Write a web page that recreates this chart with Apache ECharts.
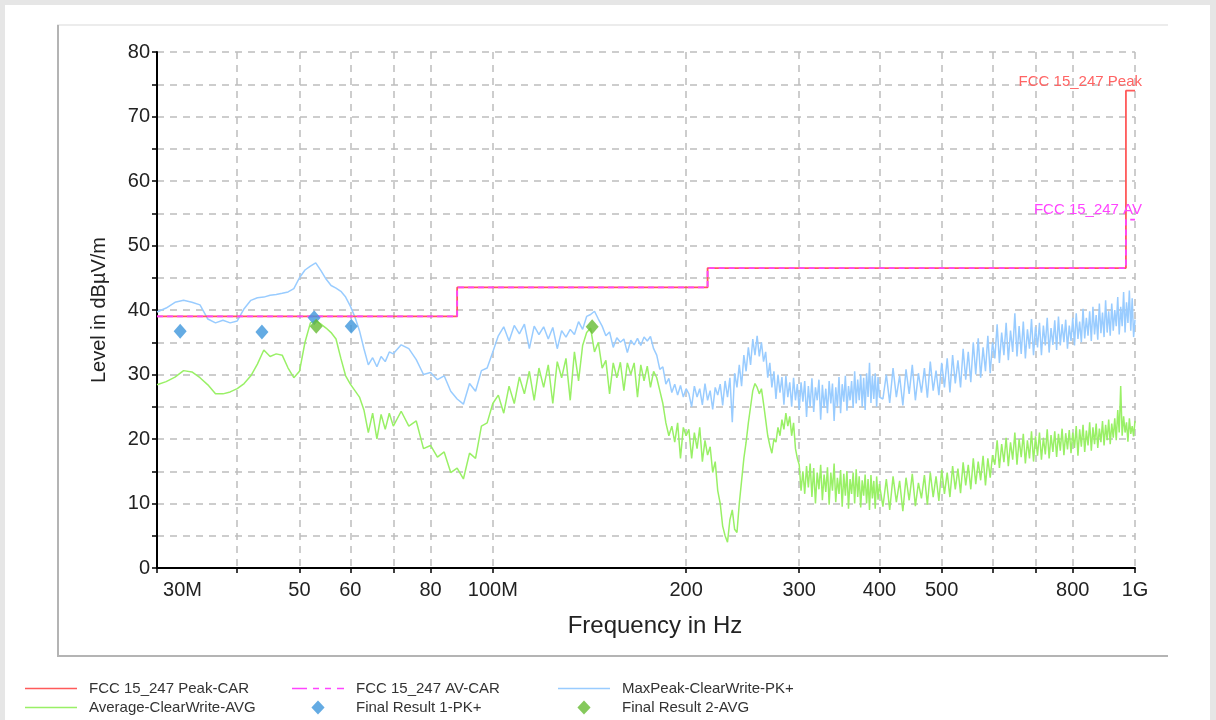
<!DOCTYPE html>
<html><head><meta charset="utf-8">
<script src="https://cdn.jsdelivr.net/npm/echarts@6/dist/echarts.min.js"></script>
<style>html,body{margin:0;padding:0;background:#e6e6e6;}#c{width:1216px;height:720px;}</style>
</head><body><div id="c"></div>
<script>
// Sweep frequencies (MHz)
const freqMHz = [
 30,31,32,33,34,35,36,37,38,39,40,41,42,43,44,45,46,47,48,49,50,51,52,53,54,55,56,57,58,59,60,61,62,63,64,65,66,67,68,69,70,
 72,74,76,78,80,82,84,86,88,90,92,94,96,98,100,
 102,104,106,108,110,112,114,116,118,120,122,124,126,128,130,132,134,136,138,140,142,144,146,148,150,
 152,154,156,158,160,162,164,166,168,170,172,174,176,178,180,182,184,186,188,190,192,194,196,198,200,
 202,204,206,208,210,212,214,216,218,220,222,224,226,228,230,232,234,236,238,240,242,244,246,248,250,
 252,254,256,258,260,262,264,266,268,270,272,274,276,278,280,282,284,286,288,290,292,294,296,298,300,
 302,304,306,308,310,312,314,316,318,320,322,324,326,328,330,332,334,336,338,340,342,344,346,348,350,
 352,354,356,358,360,362,364,366,368,370,372,374,376,378,380,382,384,386,388,390,392,394,396,398,400,
 405,410,415,420,425,430,435,440,445,450,455,460,465,470,475,480,485,490,495,500,
 505,510,515,520,525,530,535,540,545,550,555,560,565,570,575,580,585,590,595,600,
 605,610,615,620,625,630,635,640,645,650,655,660,665,670,675,680,685,690,695,700,
 705,710,715,720,725,730,735,740,745,750,755,760,765,770,775,780,785,790,795,800,
 805,810,815,820,825,830,835,840,845,850,855,860,865,870,875,880,885,890,895,900,
 905,910,915,920,925,930,935,940,945,950,955,960,965,970,975,980,985,990,995,1000
];
// MaxPeak-ClearWrite-PK+ (dBµV/m)
const maxPeak = [
 39.7,40.3,41.2,41.5,41.2,40.8,38.6,38.0,38.4,38.0,38.3,40.2,41.5,41.9,42.0,42.3,42.4,42.6,42.8,43.3,45.0,46.2,46.8,47.3,46.1,44.8,43.8,43.4,42.9,42.0,40.6,38.9,36.8,34.0,31.5,32.6,31.2,32.8,32.0,33.5,33.2,
 34.6,34.0,32.3,30.0,30.3,29.2,29.8,27.4,26.2,25.4,28.6,27.4,30.6,31.0,33.5,
 36.0,37.4,35.2,37.6,36.3,37.8,34.0,37.5,36.2,37.4,35.5,37.3,34.0,36.8,35.8,37.0,36.2,38.2,37.0,39.0,39.3,39.8,38.6,37.5,36.0,
 36.6,34.2,35.7,35.0,35.5,33.4,35.3,34.6,35.6,34.5,35.8,35.2,35.9,34.0,33.0,30.8,31.2,28.5,29.4,27.2,28.5,26.8,28.3,26.5,27.8,
 27.0,25.0,28.2,26.5,27.8,25.3,28.6,26.0,27.5,24.6,28.0,26.8,28.5,25.2,29.0,26.5,29.5,22.6,30.2,28.0,31.5,28.2,33.0,30.5,34.2,
 31.5,35.5,33.0,36.0,32.8,35.0,32.0,33.5,29.5,31.8,28.0,30.5,26.2,30.0,27.2,29.6,25.3,29.8,26.5,28.8,25.0,29.5,26.0,28.5,24.5,
 28.8,25.8,29.0,23.4,28.2,25.0,29.4,24.2,28.0,26.0,29.2,23.0,28.4,24.8,27.8,24.0,29.0,25.5,28.6,22.8,28.0,25.0,29.6,24.0,28.5,
 25.8,29.8,24.4,28.2,26.0,29.0,24.8,30.5,25.5,29.2,26.0,30.0,25.0,29.5,24.5,30.2,26.5,31.8,25.6,29.8,26.2,30.2,25.0,29.6,26.5,
 26.2,30.0,25.6,31.0,26.5,29.8,25.2,30.8,27.0,31.5,26.0,30.2,27.2,31.0,26.4,32.0,27.5,30.6,26.8,31.8,
 28.0,32.5,27.2,33.0,28.6,32.2,28.0,34.0,29.2,33.5,28.8,35.0,30.0,35.6,29.5,34.2,30.5,36.0,30.2,35.0,
 32.5,37.8,31.8,36.5,33.0,38.0,32.2,36.8,33.5,39.5,32.8,37.5,33.2,38.2,32.5,37.0,34.0,38.6,33.0,37.4,
 34.2,38.0,33.0,37.6,34.5,38.8,33.4,37.2,34.6,38.4,33.8,39.0,34.5,37.8,35.0,38.5,34.0,37.6,35.2,38.8,
 34.5,39.5,35.5,38.2,35.0,40.2,35.6,38.8,36.0,39.8,35.2,40.5,36.2,39.2,35.4,41.0,36.4,39.6,35.8,41.5,
 36.5,39.8,36.0,41.0,36.8,40.0,37.5,42.0,36.2,40.5,37.5,42.8,36.5,41.2,38.0,43.0,36.8,41.8,35.8,38.5
];
// Average-ClearWrite-AVG (dBµV/m)
const average = [
 28.4,28.9,29.6,30.6,30.4,29.5,28.4,27.0,27.0,27.3,27.8,28.6,29.8,31.6,33.8,32.8,33.2,33.0,31.0,29.5,30.5,35.0,38.0,38.4,37.8,37.2,36.5,35.5,32.5,29.8,28.5,27.5,26.5,24.5,21.0,24.0,20.0,23.8,21.5,24.0,22.0,
 24.3,22.0,22.8,18.5,19.0,17.2,18.0,14.8,15.5,13.8,17.8,17.0,22.0,22.5,25.5,
 26.8,24.0,28.2,25.5,29.6,27.0,30.5,26.0,31.0,28.0,31.5,25.5,32.0,29.5,32.5,26.0,33.5,29.0,34.5,36.5,37.2,33.5,35.0,31.0,32.2,
 27.0,31.8,29.5,31.9,27.5,31.8,30.0,31.8,26.5,31.5,29.0,31.3,28.0,30.5,29.5,27.5,25.5,22.5,20.5,22.0,19.5,22.5,17.0,21.8,20.5,
 21.5,17.0,21.0,18.5,21.8,16.5,19.8,17.5,18.8,14.8,16.5,12.0,10.0,6.5,5.0,4.0,7.5,9.0,6.0,5.5,10.0,13.5,17.0,19.5,22.5,
 25.0,27.5,28.6,28.0,27.0,27.8,25.5,23.0,20.5,19.0,17.8,20.0,19.5,21.8,20.5,23.0,21.5,24.0,22.0,23.5,20.5,22.5,18.5,17.0,16.0,
 12.0,15.0,11.5,15.8,12.5,16.2,11.0,15.5,10.0,14.8,12.2,16.0,10.5,14.5,11.8,15.6,9.8,14.8,12.0,16.2,10.2,14.0,11.5,15.2,9.5,
 14.6,11.2,15.0,9.2,13.8,11.5,14.8,10.0,15.3,11.0,14.2,9.4,13.6,11.2,14.5,10.0,13.8,9.0,14.4,10.8,13.5,9.2,14.2,10.6,13.0,
 9.5,13.8,9.0,14.2,10.2,13.5,8.8,14.0,10.5,14.6,9.6,13.2,10.8,14.4,9.8,14.8,11.0,14.2,10.4,15.2,
 11.5,14.8,11.0,15.8,12.2,15.4,11.6,16.4,12.8,16.0,12.2,17.0,13.0,16.5,13.6,17.4,12.8,17.0,14.0,17.5,
 16.0,19.8,15.5,19.2,16.4,20.2,15.8,19.5,16.8,21.0,16.0,20.0,17.2,20.8,16.2,19.8,17.0,21.2,16.5,20.4,
 17.4,21.0,16.8,20.2,17.6,21.5,17.0,20.6,18.0,21.2,17.2,20.8,18.2,21.6,17.5,20.9,18.4,21.4,17.8,21.0,
 18.6,22.0,17.4,21.5,18.8,22.2,18.0,21.3,19.0,22.6,18.2,21.8,19.2,22.4,18.6,21.6,19.5,22.8,19.0,22.2,
 19.8,23.0,19.2,22.4,20.2,23.2,19.8,24.5,21.0,28.2,20.5,23.5,21.0,22.6,19.6,23.2,20.8,22.0,20.4,22.8
];
// Limit lines
const limitF = [30,88,88,216,216,968,968,1000];
const peakLimitV = [39,39,43.5,43.5,46.5,46.5,74,74];
const avLimitV = [39,39,43.5,43.5,46.5,46.5,54,54];
// Final results
const fr1F = [32.6,43.7,52.7,60.2];
const fr1V = [36.7,36.6,38.8,37.5];
const fr2F = [53.1,142.8];
const fr2V = [37.5,37.4];
// Axis ticks
const xTickValues = [30,40,50,60,70,80,100,200,300,400,500,600,700,800,1000];
const xLabelValues = [30,50,60,80,100,200,300,400,500,800,1000];
const yMin = 0, yMax = 80, yStep = 5;

const zip = (a,b) => a.map((v,i)=>[v,b[i]]);
const FONT = '"Liberation Sans", Arial, sans-serif';
const LINE_ICON = 'path://M0,0H104V3H0Z';
const DASH_ICON = 'path://M0,0H15V1.5H0Z M21,0H27V1.5H21Z M33,0H39V1.5H33Z M45,0H52V1.5H45Z';
const DIAMOND_ICON = 'path://M8,0L16,8.5L8,17L0,8.5Z';

const chart = echarts.init(document.getElementById('c'), null, {renderer:'canvas'});
const legendBase = {
  orient:'vertical', top:676, itemWidth:52, itemHeight:14, itemGap:4, symbolKeepAspect:true,
  textStyle:{fontFamily:FONT, fontSize:15, color:'#333', padding:[0,0,0,7]},
  selectedMode:false
};
chart.setOption({
  animation:false,
  backgroundColor:'#e6e6e6',
  graphic:[
    {type:'rect', shape:{x:5,y:5,width:1205,height:720}, style:{fill:'#ffffff'}, z:-10},
    {type:'line', shape:{x1:57,y1:25,x2:1168,y2:25}, style:{stroke:'#ececec', lineWidth:2}, z:-5},
    {type:'line', shape:{x1:58,y1:25,x2:58,y2:656}, style:{stroke:'#b4b4b4', lineWidth:2}, z:-5},
    {type:'line', shape:{x1:57,y1:656,x2:1168,y2:656}, style:{stroke:'#b4b4b4', lineWidth:2}, z:-5}
  ],
  grid:{left:157, right:81, top:52, bottom:152, containLabel:false},
  legend:[
    Object.assign({}, legendBase, {left:20, data:[{name:'FCC 15_247 Peak-CAR', icon:LINE_ICON},{name:'Average-ClearWrite-AVG', icon:LINE_ICON}]}),
    Object.assign({}, legendBase, {left:287, data:[{name:'FCC 15_247 AV-CAR', icon:DASH_ICON},{name:'Final Result 1-PK+', icon:DIAMOND_ICON}]}),
    Object.assign({}, legendBase, {left:553, data:[{name:'MaxPeak-ClearWrite-PK+', icon:LINE_ICON},{name:'Final Result 2-AVG', icon:DIAMOND_ICON}]})
  ],
  xAxis:{
    type:'log', logBase:10, min:30, max:1000,
    name:'Frequency in Hz', nameLocation:'middle', nameGap:46,
    nameTextStyle:{fontFamily:FONT, fontSize:24, color:'#222', padding:[0,0,0,18]},
    axisLine:{show:true, onZero:false, lineStyle:{color:'#000', width:2}},
    axisTick:{show:true, length:5, customValues:xTickValues, lineStyle:{color:'#000', width:1.5}},
    axisLabel:{customValues:xLabelValues, margin:12, fontFamily:FONT, fontSize:20, color:'#222',
      formatter:function(v){
        const r = Math.round(v);
        if (r===30) return '{m|30M}';
        if (r===100) return '100M';
        if (r===1000) return '1G';
        return String(r);
      },
      rich:{m:{fontFamily:FONT, fontSize:20, color:'#222', padding:[0,0,0,51]}}
    },
    splitLine:{show:true, lineStyle:{color:'#bdbdbd', width:1.5, type:[7,6]}},
    minorTick:{show:false}, minorSplitLine:{show:false}
  },
  yAxis:{
    type:'value', min:yMin, max:yMax, interval:yStep,
    name:'Level in dBµV/m', nameLocation:'middle', nameGap:48,
    nameTextStyle:{fontFamily:FONT, fontSize:20, color:'#222'},
    axisLine:{show:true, lineStyle:{color:'#000', width:2}},
    axisTick:{show:true, length:5, lineStyle:{color:'#000', width:1.5}},
    axisLabel:{margin:7, fontFamily:FONT, fontSize:20, color:'#222',
      formatter:function(v){ return (Math.round(v)%10===0) ? String(Math.round(v)) : ''; }},
    splitLine:{show:true, lineStyle:{color:'#bdbdbd', width:1.5, type:[7,6]}}
  },
  series:[
    {name:'MaxPeak-ClearWrite-PK+', type:'line', data:zip(freqMHz,maxPeak), showSymbol:false, symbol:'none',
      lineStyle:{color:'#99ccff', width:1.5}, itemStyle:{color:'#99ccff'}, z:2},
    {name:'Average-ClearWrite-AVG', type:'line', data:zip(freqMHz,average), showSymbol:false, symbol:'none',
      lineStyle:{color:'#99f066', width:1.5}, itemStyle:{color:'#99f066'}, z:3},
    {name:'FCC 15_247 Peak-CAR', type:'line', data:zip(limitF,peakLimitV), showSymbol:false, symbol:'none',
      lineStyle:{color:'#ff5a5a', width:1.8}, itemStyle:{color:'#ff5a5a'}, z:4,
      markPoint:{symbol:'rect', symbolSize:1, itemStyle:{color:'rgba(0,0,0,0)'}, silent:true,
        data:[{coord:[1000,74], label:{show:true, formatter:'FCC 15_247 Peak', position:[7.5,-8], align:'right', verticalAlign:'middle', fontFamily:FONT, fontSize:15, color:'#ff6464'}}]}},
    {name:'FCC 15_247 AV-CAR', type:'line', data:zip(limitF,avLimitV), showSymbol:false, symbol:'none',
      lineStyle:{color:'#ff44ff', width:1.8, type:[6,4]}, itemStyle:{color:'#ff44ff'}, z:5,
      markPoint:{symbol:'rect', symbolSize:1, itemStyle:{color:'rgba(0,0,0,0)'}, silent:true,
        data:[{coord:[1000,54], label:{show:true, formatter:'FCC 15_247 AV', position:[7.5,-9], align:'right', verticalAlign:'middle', fontFamily:FONT, fontSize:15, color:'#ff44ff'}}]}},
    {name:'Final Result 1-PK+', type:'scatter', data:zip(fr1F,fr1V), symbol:'diamond', symbolSize:[13,15],
      itemStyle:{color:'#3d96dc'}, z:6},
    {name:'Final Result 2-AVG', type:'scatter', data:zip(fr2F,fr2V), symbol:'diamond', symbolSize:[13,15],
      itemStyle:{color:'#66bb33'}, z:7}
  ]
});
</script></body></html>
